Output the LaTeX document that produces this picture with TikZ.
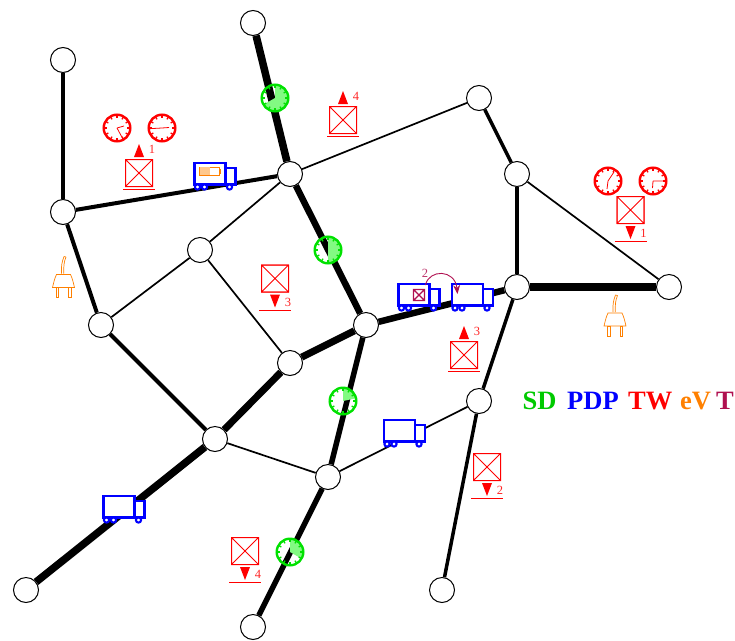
\documentclass[tikz,border=0pt]{standalone}
\usepackage{fontspec}
\setmainfont{Liberation Serif}
\usetikzlibrary{arrows.meta}
\definecolor{sdgreen}{RGB}{0,225,0}
\definecolor{sdlight}{RGB}{130,250,130}
\definecolor{evorange}{RGB}{255,128,0}
\definecolor{tmaroon}{RGB}{176,16,80}
\definecolor{batfill}{RGB}{255,200,140}
\tikzset{
  station/.style={circle,draw,fill=white,minimum size=25pt,inner sep=0pt,line width=1pt},
  link/.style={line width=#1,line cap=butt},
  legend/.style={anchor=west,inner sep=0pt,font=\bfseries\fontsize{26.5}{26.5}\selectfont},
  tag/.style={red!85,inner sep=0pt,font=\fontsize{12.5}{12.5}\selectfont},
  wagon/.style={draw=blue,fill=white,line width=2.1pt}
}
\newcommand{\ClockFace}[2]{%
  \draw[#2,line width=2.4pt] (#1) circle (13.3);
  \foreach \a in {0,30,...,330}
    \draw[#2,line width=1.3pt] (#1) ++(\a:12.5) -- ++(\a:-2.5);
}
\newcommand{\GreenClock}[2]{%
  \fill[sdlight] (#1) -- ++(-90:12.5) arc[start angle=-90,end angle=#2,radius=12.5] -- cycle;
  \ClockFace{#1}{sdgreen}
}
\newcommand{\RedClock}[3]{%
  \ClockFace{#1}{red}
  \draw[red,line width=.8pt] (#1) -- ++(#2) (#1) -- ++(#3);
}
\newcommand{\Crate}[2]{%
  \begin{scope}[shift={(#1)},red,line width=1pt]
    \draw[red!40,line width=1.7pt] (-13.5,-13.5) rectangle (13.5,13.5);
    \draw (-13.5,-13.5) rectangle (13.5,13.5) (-13.5,-13.5) -- (13.5,13.5) (-13.5,13.5) -- (13.5,-13.5);
    #2
  \end{scope}
}
\newcommand{\CrateUp}[3]{%
  \Crate{#1}{
    \fill (0,-29) -- (5,-16) -- (-5,-16) -- cycle;
    \draw (-16,16) -- (16,16);
    \node[tag] (#2) at (13,-23.5) {#3};
  }
}
\newcommand{\CrateDown}[3]{%
  \Crate{#1}{
    \fill (0,29) -- (5,16) -- (-5,16) -- cycle;
    \draw (-16,31.5) -- (16,31.5);
    \node[tag] (#2) at (13,23.5) {#3};
  }
}
\newcommand{\Truck}[2]{%
  \begin{scope}[shift={(#1)}]
    \draw[wagon] (31,5) rectangle (41,21.5);
    \draw[wagon] (0,0) rectangle (31,21.5);
    \foreach \w in {3,10,35}
      \draw[wagon] (\w,24) circle (2.6);
    #2
  \end{scope}
}
\newcommand{\Plug}[1]{%
  \begin{scope}[shift={(#1)},evorange,line width=.7pt]
    \draw (-2,-1) .. controls (-2.5,-8) and (-1.5,-13) .. (.5,-18) (.3,-1) .. controls (0,-8) and (.5,-13) .. (2.5,-17.5) (.5,-18) -- (2.5,-17.5);
    \draw[fill=white] (-7,0) -- (7,0) .. controls (9,4) and (10,9) .. (11,13) -- (-11,13) .. controls (-10,9) and (-9,4) .. (-7,0) -- cycle;
    \draw (-7.5,13) rectangle (-5,23) (5,13) rectangle (7.5,23);
  \end{scope}
}
\begin{document}
\begin{tikzpicture}[x=1pt,y=-1pt]
  \useasboundingbox (0,0) rectangle (735,640);
  \node[station] (top) at (253,23) {};
  \node[station] (nw) at (63,60) {};
  \node[station] (ne) at (479,98) {};
  \node[station] (cr) at (517,174) {};
  \node[station] (hub) at (290,174) {};
  \node[station] (wst) at (63,212) {};
  \node[station] (mid) at (200,250) {};
  \node[station] (est) at (669,287) {};
  \node[station] (rt) at (517,287) {};
  \node[station] (lft) at (101,325) {};
  \node[station] (ctr) at (366,325) {};
  \node[station] (inn) at (290,363) {};
  \node[station] (rb) at (479,401) {};
  \node[station] (sw) at (215,439) {};
  \node[station] (bot) at (328,477) {};
  \node[station] (cor) at (26,590) {};
  \node[station] (se) at (442,590) {};
  \node[station] (foot) at (253,627) {};

  \draw[link=3.5pt] (nw) -- (wst);
  \draw[link=4pt] (wst) -- (hub);
  \draw[link=4pt] (wst) -- (lft);
  \draw[link=4pt] (lft) -- (sw);
  \draw[link=7.5pt] (top) -- (hub);
  \draw[link=1.7pt] (hub) -- (ne);
  \draw[link=3.5pt] (ne) -- (cr);
  \draw[link=4.5pt] (cr) -- (rt);
  \draw[link=1.7pt] (cr) -- (est);
  \draw[link=8.5pt] (rt) -- (est);
  \draw[link=1.7pt] (hub) -- (mid);
  \draw[link=1.7pt] (mid) -- (lft);
  \draw[link=1.7pt] (mid) -- (inn);
  \draw[link=6.5pt] (hub) -- (ctr);
  \draw[link=6.5pt] (ctr) -- (rt);
  \draw[link=7pt] (ctr) -- (inn);
  \draw[link=7pt] (inn) -- (sw);
  \draw[link=7.5pt] (sw) -- (cor);
  \draw[link=1.7pt] (sw) -- (bot);
  \draw[link=1.7pt] (bot) -- (rb);
  \draw[link=5.5pt] (ctr) -- (bot);
  \draw[link=5.5pt] (bot) -- (foot);
  \draw[link=3.5pt] (rt) -- (rb);
  \draw[link=3.5pt] (rb) -- (se);

  \GreenClock{275,98}{150}
  \GreenClock{328,250}{90}
  \GreenClock{343,401}{-12}
  \GreenClock{290,552}{30}

  \RedClock{117,128}{7,-2}{7,13}
  \RedClock{162,128}{-13,.7}{7,-.5}
  \RedClock{608,181}{6,-9}{-1,8}
  \RedClock{653,181}{10,0}{-.5,7}

  \CrateUp{139,173}{num1}{1}
  \CrateUp{343,120}{num4}{4}
  \CrateUp{464,355}{num3}{3}
  \CrateDown{630.5,210}{dn1}{1}
  \CrateDown{275,278.5}{dn3}{3}
  \CrateDown{487,467}{dn2}{2}
  \CrateDown{245,551}{dn4}{4}

  \Truck{194.5,163}{
    \draw[evorange,line width=.8pt] (5,4) rectangle (25,12);
    \fill[batfill] (5.4,4.4) rectangle (15,11.6);
    \draw[evorange,line width=.8pt] (25,6) -- (26,6) -- (26,10) -- (25,10);
  }
  \Truck{398.5,284}{
    \draw[tmaroon,line width=1.1pt] (15,5.5) rectangle (26,16.5) (15,5.5) -- (26,16.5) (15,16.5) -- (26,5.5);
  }
  \Truck{452,284}{}
  \Truck{103.5,496}{}
  \Truck{384,420}{}

  \coordinate (hopa) at (425.5,285);
  \coordinate (hopb) at (457.5,294);
  \draw[tmaroon,line width=.9pt,-{Stealth[length=9pt,width=7pt]}] (hopa) .. controls (429,269) and (455,269) .. (hopb);
  \node[inner sep=0pt,text=tmaroon!85,font=\fontsize{12.5}{12.5}\selectfont] (hopnum) at (425,273.5) {2};

  \Plug{63.5,274.5}
  \Plug{615,313}

  \node[legend,text=sdgreen!90!black] (sd) at (522.5,401) {SD};
  \node[legend,text=blue] (pdp) at (567,401) {PDP};
  \node[legend,text=red] (tw) at (628,401) {TW};
  \node[legend,text=evorange] (ev) at (680,401) {eV};
  \node[legend,text=tmaroon] (tee) at (716,401) {T};
\end{tikzpicture}
\end{document}
